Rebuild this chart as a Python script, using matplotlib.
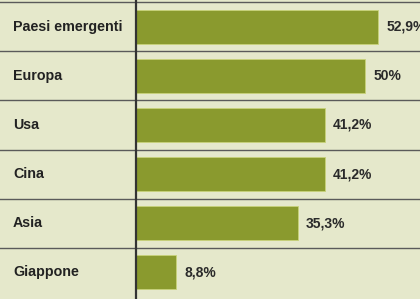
import matplotlib
matplotlib.use("Agg")
import matplotlib.pyplot as plt
from matplotlib import font_manager

categories = ["Paesi emergenti", "Europa", "Usa", "Cina", "Asia", "Giappone"]
values = [52.9, 50.0, 41.2, 41.2, 35.3, 8.8]
value_labels = ["52,9%", "50%", "41,2%", "41,2%", "35,3%", "8,8%"]

fams = {f.name for f in font_manager.fontManager.ttflist}
fam = "Liberation Sans Narrow" if "Liberation Sans Narrow" in fams else "Liberation Sans"

bg = "#e5e8cb"
bar_color = "#8a9a2e"
W, H = 420, 299
fig = plt.figure(figsize=(W / 100, H / 100), dpi=100, facecolor=bg)
x0 = 136
ax = fig.add_axes([x0 / W, 0, (W - x0) / W, 1])
ax.set_facecolor(bg)
ax.set_xlim(0, (W - x0) / 4.58)
n = len(categories)
ax.set_ylim(n - 0.45, -0.55)

ys = list(range(n))
ax.barh(ys, values, height=0.7, color=bar_color, edgecolor="#c8d27a", linewidth=0.6)

for y, v, lab in zip(ys, values, value_labels):
    ax.text(v + 1.8, y, lab, va="center", ha="left", fontsize=10,
            family=fam, color="#2a2a2a", fontweight="bold")

for y, c in zip(ys, categories):
    ax.text(-(x0 - 13) / 4.58, y, c, va="center", ha="left", fontsize=10.3,
            family=fam, color="#222222", fontweight="bold")

for k in range(n):
    ax.axhline(k - 0.5, xmin=-x0 / (W - x0), xmax=1, color="#5a5a5a",
               linewidth=1.0, clip_on=False)

for s in ["top", "right", "bottom"]:
    ax.spines[s].set_visible(False)
ax.spines["left"].set_color("#333333")
ax.spines["left"].set_linewidth(1.6)
ax.set_xticks([])
ax.set_yticks([])

fig.savefig("out.png", dpi=100, facecolor=bg)
